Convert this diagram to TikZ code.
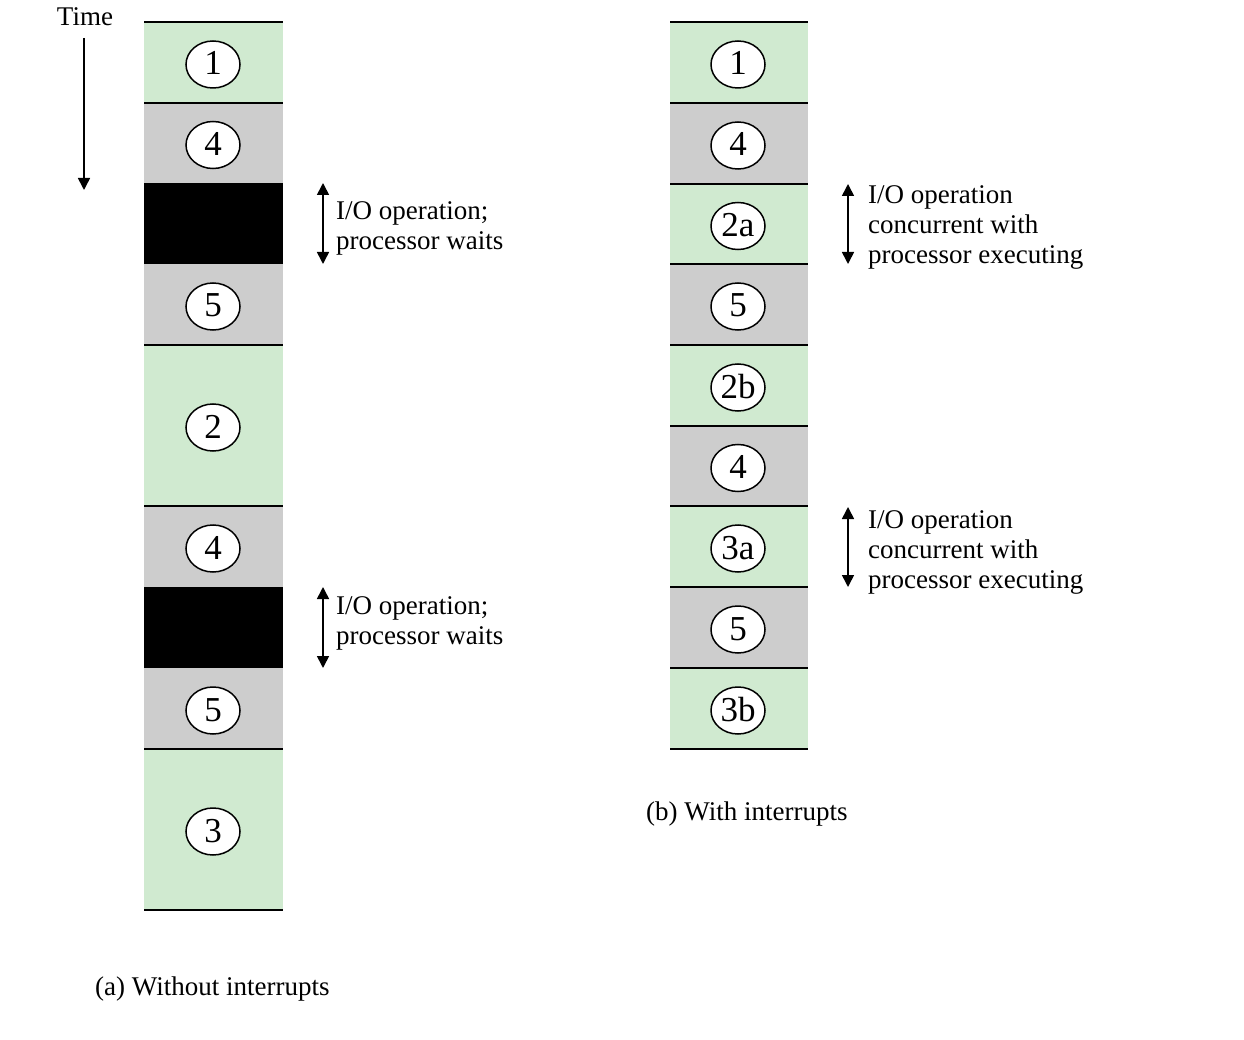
\documentclass[tikz,border=0pt]{standalone}
\usepackage{fontspec}
\setmainfont{Liberation Serif}
\usetikzlibrary{shapes.geometric,arrows.meta}
\definecolor{seggreen}{RGB}{208,234,208}
\definecolor{seggray}{RGB}{205,205,205}
\begin{document}
\begin{tikzpicture}[x=1pt,y=-1pt,
  num/.style={ellipse,draw,line width=1.5pt,fill=white,minimum width=54pt,minimum height=47pt,inner sep=0pt,text height=24pt,text depth=3pt,font=\fontsize{35}{35}\selectfont,yshift=-2pt},
  lbl/.style={anchor=west,inner sep=0pt,align=left,font=\fontsize{27}{30}\selectfont},
  sepline/.style={line width=2pt},
  dblarrow/.style={{Triangle[length=12pt,width=12pt]}-{Triangle[length=12pt,width=12pt]},line width=1.6pt},
  onearrow/.style={-{Triangle[length=12pt,width=12pt]},line width=1.6pt}
]
\useasboundingbox (0,0) rectangle (1244,1040);
% ---------- left column (a) ----------
\foreach \yt/\yb/\c in {22/103/seggreen, 103/183/seggray, 183/264/black, 264/345/seggray, 345/506/seggreen, 506/587/seggray, 587/668/black, 668/749/seggray, 749/910/seggreen}{
  \fill[\c] (144,\yt) rectangle (283,\yb);
}
\foreach \y in {22,103,345,506,749,910}{
  \draw[sepline] (144,\y) -- (283,\y);
}
\node[num] (a1) at (213,62.5) {1};
\node[num] (a2) at (213,143) {4};
\node[num] (a3) at (213,304.5) {5};
\node[num] (a4) at (213,425.5) {2};
\node[num] (a5) at (213,546.5) {4};
\node[num] (a6) at (213,708.5) {5};
\node[num] (a7) at (213,829.5) {3};
% ---------- right column (b) ----------
\foreach \yt/\yb/\c in {22/103/seggreen, 103/184/seggray, 184/264/seggreen, 264/345/seggray, 345/426/seggreen, 426/506/seggray, 506/587/seggreen, 587/668/seggray, 668/749/seggreen}{
  \fill[\c] (670,\yt) rectangle (808,\yb);
}
\foreach \y in {22,103,184,264,345,426,506,587,668,749}{
  \draw[sepline] (670,\y) -- (808,\y);
}
\node[num] (b1) at (738,62.5) {1};
\node[num] (b2) at (738,143.5) {4};
\node[num] (b3) at (738,224) {2a};
\node[num] (b4) at (738,304.5) {5};
\node[num] (b5) at (738,385.5) {2b};
\node[num] (b6) at (738,466) {4};
\node[num] (b7) at (738,546.5) {3a};
\node[num] (b8) at (738,627.5) {5};
\node[num] (b9) at (738,708.5) {3b};
% ---------- time ----------
\node[lbl,anchor=center] (time) at (85,17) {Time};
\coordinate (t1) at (84,38);
\coordinate (t2) at (84,190);
\draw[onearrow] (t1) -- (t2);
% ---------- I/O arrows left ----------
\coordinate (la1) at (323,183);
\coordinate (la2) at (323,264);
\draw[dblarrow] (la1) -- (la2);
\node[lbl] (lt1) at (336,228) {I/O operation;\\processor waits};
\coordinate (lb1) at (323,587);
\coordinate (lb2) at (323,668);
\draw[dblarrow] (lb1) -- (lb2);
\node[lbl] (lt2) at (336,623) {I/O operation;\\processor waits};
% ---------- I/O arrows right ----------
\coordinate (ra1) at (848,184);
\coordinate (ra2) at (848,264);
\draw[dblarrow] (ra1) -- (ra2);
\node[lbl] (rt1) at (868,227) {I/O operation\\concurrent with\\processor executing};
\coordinate (rb1) at (848,507);
\coordinate (rb2) at (848,587);
\draw[dblarrow] (rb1) -- (rb2);
\node[lbl] (rt2) at (868,552) {I/O operation\\concurrent with\\processor executing};
% ---------- captions ----------
\node[lbl] (capa) at (95,989) {(a) Without interrupts};
\node[lbl] (capb) at (646,814) {(b) With interrupts};
\end{tikzpicture}
\end{document}
